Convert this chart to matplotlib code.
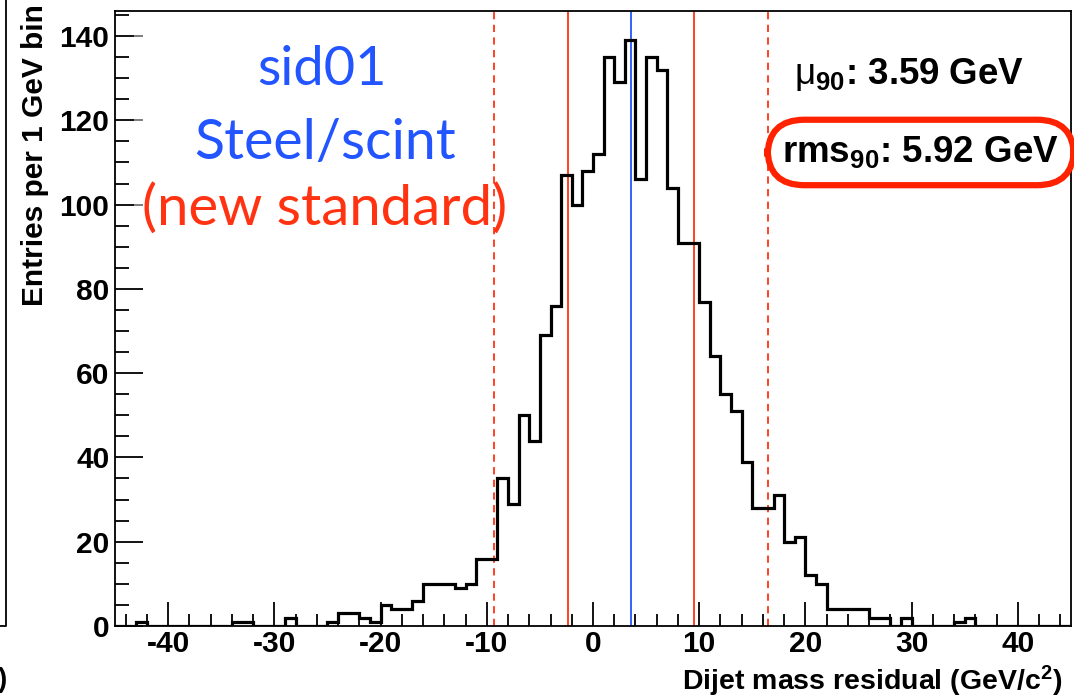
import matplotlib
matplotlib.use('Agg')
import matplotlib.pyplot as plt
import numpy as np
from matplotlib.ticker import MultipleLocator

plt.rcParams['font.family'] = ['Liberation Sans', 'DejaVu Sans']
plt.rcParams['axes.unicode_minus'] = False
plt.rcParams['mathtext.fontset'] = 'custom'
plt.rcParams['mathtext.rm'] = 'Liberation Sans'
plt.rcParams['mathtext.bf'] = 'Liberation Sans:bold'
plt.rcParams['mathtext.it'] = 'Liberation Sans:italic'

# histogram: 1 GeV bins from -45 to 45
bin_edges = np.arange(-45, 46, 1)
counts = [
    0, 0, 1, 0, 0, 0, 0, 0, 0, 0,
    0, 1, 1, 0, 0, 0, 2, 0, 0, 0,
    1, 3, 3, 2, 1, 5, 4, 4, 6, 10,
    10, 10, 9, 10, 16, 16, 35, 29, 50, 44,
    69, 76, 107, 100, 108, 112, 135, 129, 139, 106,
    135, 132, 104, 91, 91, 77, 64, 55, 51, 39,
    28, 28, 31, 20, 21, 12, 10, 4, 4, 4,
    4, 2, 2, 0, 2, 0, 0, 0, 0, 1,
    2, 0, 0, 0, 0, 0, 0, 0, 0, 0,
]

mu90 = 3.59
rms90 = 5.92
solid_lines = [-2.33, 9.51]      # mu90 -/+ rms90
dashed_lines = [-9.35, 16.5]

RED = '#ff3311'
BLUE = '#2255ff'

fig = plt.figure(figsize=(10.74, 6.98), dpi=100)
ax = fig.add_axes([0.1071, 0.1032, 0.8901, 0.8810])

ax.stairs(counts, bin_edges, color='black', linewidth=2.3, zorder=3)

for x in solid_lines:
    ax.axvline(x, color=RED, linewidth=1.3, zorder=2)
for x in dashed_lines:
    ax.axvline(x, color=RED, linewidth=1.3, linestyle=(0, (4, 3)), zorder=2)
ax.axvline(mu90, color=BLUE, linewidth=1.3, zorder=2)

ax.set_xlim(-45, 45)
ax.set_ylim(0, 1.05 * max(counts))

ax.xaxis.set_major_locator(MultipleLocator(10))
ax.xaxis.set_minor_locator(MultipleLocator(2))
ax.yaxis.set_major_locator(MultipleLocator(20))
ax.yaxis.set_minor_locator(MultipleLocator(5))
ax.tick_params(which='both', direction='in', top=False, right=False,
               width=1.3, colors='black')
ax.tick_params(axis='x', which='major', length=17, pad=3)
ax.tick_params(axis='x', which='minor', length=9)
ax.tick_params(axis='y', which='major', length=20, pad=4)
ax.tick_params(axis='y', which='minor', length=10)
for lab in ax.get_xticklabels() + ax.get_yticklabels():
    lab.set_fontsize(21.5)
    lab.set_fontweight('bold')
for sp in ax.spines.values():
    sp.set_linewidth(1.3)

fig.text(35 / 1074, 1 - 4 / 698, 'Entries per 1 GeV bin', rotation=90,
         ha='center', va='top', fontsize=21.5, fontweight='bold')
fig.text(1062 / 1074, 1 - 681 / 698, r'Dijet mass residual (GeV/c$^{\mathbf{2}}$)',
         ha='right', va='center', fontsize=20.5, fontweight='bold')

# pasted label block (semi-opaque white behind it)
ax.add_patch(plt.Rectangle((0.02, 0.6), 0.36, 0.39, transform=ax.transAxes,
                           facecolor='white', alpha=0.45, edgecolor='none', zorder=4))
tfont = ['Lato', 'DejaVu Sans']
ax.text(0.216, 0.905, 'sid01', transform=ax.transAxes, ha='center', va='center',
        fontsize=39, color=BLUE, family=tfont, zorder=5)
ax.text(0.220, 0.785, 'Steel/scint', transform=ax.transAxes, ha='center', va='center',
        fontsize=40, color=BLUE, family=tfont, zorder=5)
ax.text(0.219, 0.678, '(new standard)', transform=ax.transAxes, ha='center', va='center',
        fontsize=40.5, color=RED, family=tfont, zorder=5)

ax.text(0.710, 0.897, r'$\mathrm{\mu}_{\mathbf{90}}$' + f': {mu90:.2f} GeV',
        transform=ax.transAxes, ha='left', va='center', fontsize=26.5,
        fontweight='bold', zorder=5)
ax.text(0.698, 0.770, r'rms$_{\mathbf{90}}$' + f': {rms90:.2f} GeV',
        transform=ax.transAxes, ha='left', va='center', fontsize=26.5,
        fontweight='bold', zorder=5,
        bbox=dict(boxstyle='round,pad=0.4,rounding_size=1.0', facecolor='none',
                  edgecolor='#ff2200', linewidth=4.5))

# edge of the neighbouring panel
fig.add_artist(plt.Line2D([0, 6 / 1074, 6 / 1074], [1 - 626 / 698, 1 - 626 / 698, 1.0],
                          color='black', linewidth=1.3))
fig.text(-2 / 1074, 1 - 680 / 698, ')', ha='left', va='center', fontsize=20,
         fontweight='bold')

fig.savefig('out.png', dpi=100, facecolor='white')
